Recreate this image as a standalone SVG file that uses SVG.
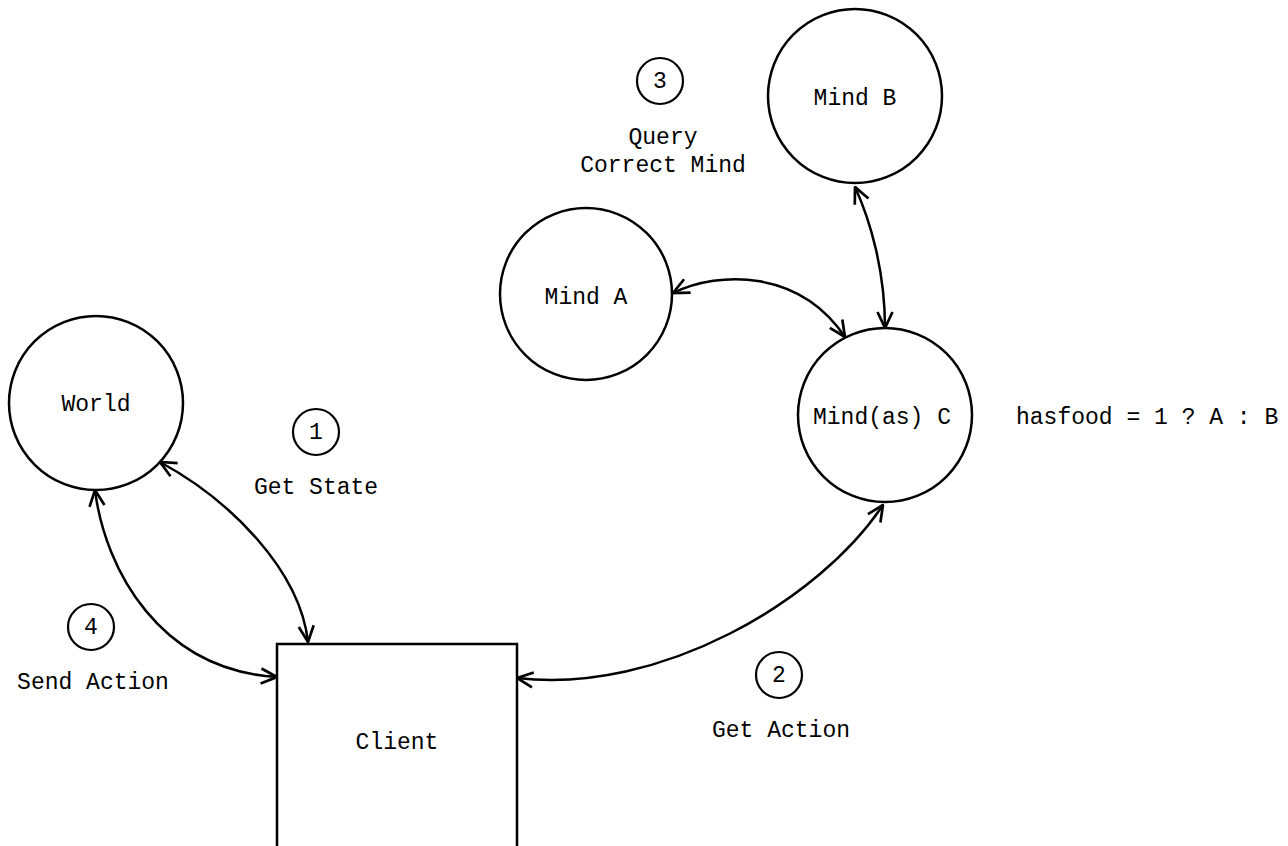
<svg xmlns="http://www.w3.org/2000/svg" width="1288" height="846" viewBox="0 0 1288 846">
<style>
.n{fill:#fff;stroke:#000;stroke-width:2.5}
.s{fill:#fff;stroke:#000;stroke-width:2.2}
.t{font-family:"Liberation Mono","Courier New",monospace;font-size:23px;fill:#000}
.m{text-anchor:middle}
.c{fill:none;stroke:#000;stroke-width:2.5;marker-start:url(#a);marker-end:url(#a)}
</style>
<defs>
<marker id="a" markerUnits="userSpaceOnUse" viewBox="0 0 18 18" refX="17" refY="9" markerWidth="18" markerHeight="18" orient="auto-start-reverse">
<path d="M1,1.5 L17,9 L1,16.5" fill="none" stroke="#000" stroke-width="2.7"/>
</marker>
</defs>
<rect width="1288" height="846" fill="#fff"/>
<g id="connectors">
<path class="c" d="M160,462 C230,500 300,570 308,642"/>
<path class="c" d="M95,490 C105,570 160,670 277,677"/>
<path class="c" d="M517,678 C660,695 820,600 883,505"/>
<path class="c" d="M673,293 C720,270 800,270 845,337"/>
<path class="c" d="M855,187 C870,220 885,270 885,328"/>
</g>
<g id="world"><circle class="n" cx="96" cy="403" r="87"/><text class="t m" x="96" y="411">World</text></g>
<g id="client"><rect class="n" x="277" y="644" width="240" height="215" stroke-width="3"/><text class="t m" x="397" y="749">Client</text></g>
<g id="mindA"><circle class="n" cx="586" cy="294" r="86"/><text class="t m" x="586" y="304">Mind A</text></g>
<g id="mindB"><circle class="n" cx="855" cy="96" r="87"/><text class="t m" x="855" y="105">Mind B</text></g>
<g id="mindC"><circle class="n" cx="885" cy="415" r="87"/><text class="t m" x="882" y="424">Mind(as) C</text></g>
<g id="step1"><circle class="s" cx="316" cy="432" r="23"/><text class="t m" x="316" y="439">1</text><text class="t m" x="316" y="494">Get State</text></g>
<g id="step2"><circle class="s" cx="779" cy="675" r="23"/><text class="t m" x="779" y="682">2</text><text class="t m" x="781" y="737">Get Action</text></g>
<g id="step3"><circle class="s" cx="660" cy="81" r="23"/><text class="t m" x="660" y="88">3</text><text class="t m" x="663" y="144">Query</text><text class="t m" x="663" y="172">Correct Mind</text></g>
<g id="step4"><circle class="s" cx="91" cy="627" r="23"/><text class="t m" x="91" y="634">4</text><text class="t m" x="93" y="689">Send Action</text></g>
<g id="rule"><text class="t" x="1016" y="424">hasfood = 1 ? A : B</text></g>
</svg>
